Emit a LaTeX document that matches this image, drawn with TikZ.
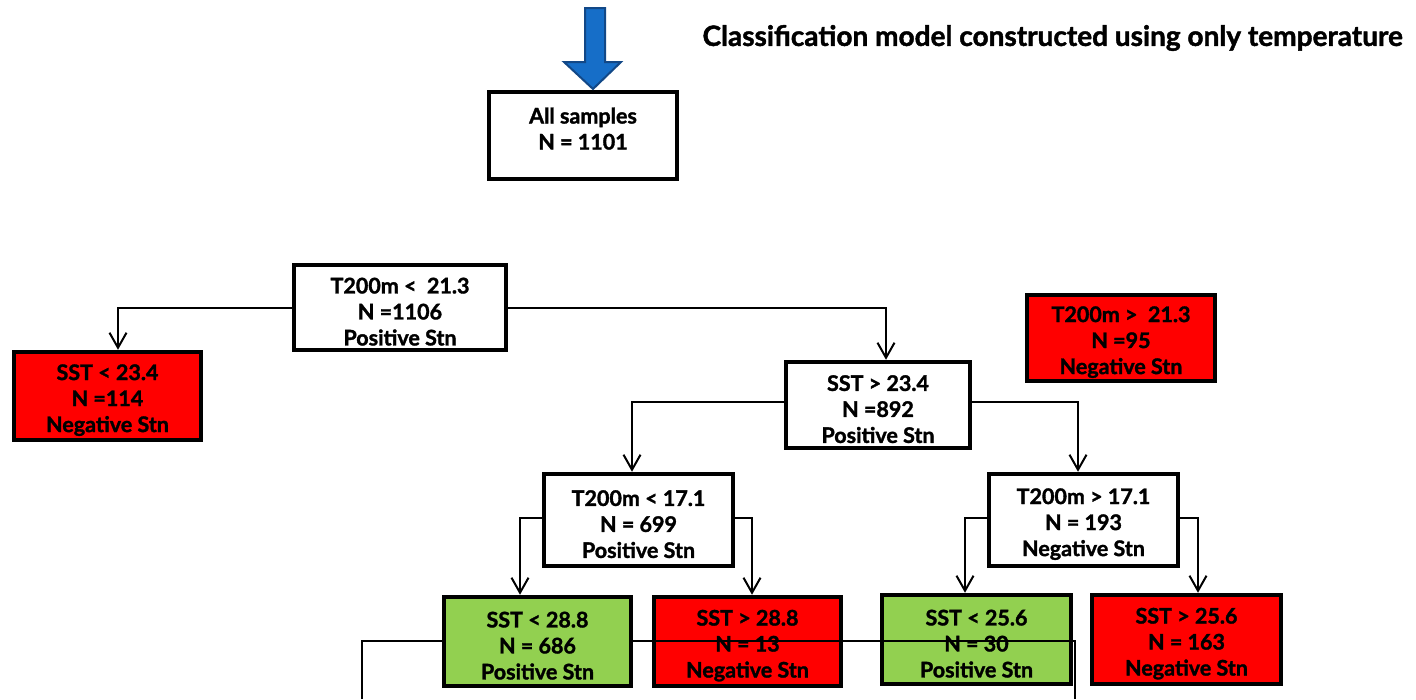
\documentclass[tikz,border=0pt]{standalone}
\usepackage{fontspec}
\setmainfont{Lato}[BoldFeatures={FakeBold=1.5}]
\usetikzlibrary{arrows.meta}
\definecolor{boxred}{RGB}{255,0,0}
\definecolor{boxgreen}{RGB}{146,208,80}
\definecolor{arrowblue}{RGB}{22,110,200}
\definecolor{arrowedge}{RGB}{18,72,135}
\newcommand{\dn}{\rule{0pt}{24pt}}
\begin{document}
\begin{tikzpicture}[x=1pt,y=-1pt,
  box/.style={draw=black, line width=4.5pt, fill=white, align=center,
    font=\fontsize{21.5}{26}\selectfont\bfseries, inner sep=0pt},
  redbox/.style={box, fill=boxred},
  greenbox/.style={box, fill=boxgreen},
  conn/.style={draw=black, line width=2pt, -{Straight Barb[length=15pt,width=17pt,line width=2pt]}},
  stray/.style={draw=black, line width=2pt}]
\useasboundingbox (0,0) rectangle (1416,699);

% title
\node[font=\fontsize{28}{30}\selectfont\bfseries, anchor=west] (title) at (699,38) {Classification model constructed using only temperature};

% top box and blue arrow
\node[box, minimum width=188pt, minimum height=87pt] (all) at (583,135.5) {\dn All samples\\N = 1101\\[-4pt]~};
\draw[fill=arrowblue, draw=arrowedge, line width=2pt, line join=miter]
  (585,8) -- (605,8) -- (605,62) -- (621,62) -- (593,89) -- (564,62) -- (585,62) -- cycle;

% level 1
\node[box, minimum width=212pt, minimum height=85pt] (t1) at (400,307.5) {\dn T200m <\ \ 21.3\\N =1106\\Positive Stn};
\node[redbox, minimum width=187pt, minimum height=88pt] (s1) at (107.5,396) {\dn SST < 23.4\\N =114\\Negative Stn};
\node[redbox, minimum width=188pt, minimum height=86pt] (n95) at (1121,338) {\dn T200m >\ \ 21.3\\N =95\\Negative Stn};
\node[box, minimum width=184pt, minimum height=86pt] (s2) at (878,405) {\dn SST > 23.4\\N =892\\Positive Stn};

% level 2
\node[box, minimum width=189pt, minimum height=92pt] (t3) at (638.5,520) {\dn T200m < 17.1\\N = 699\\Positive Stn};
\node[box, minimum width=189pt, minimum height=92pt] (t4) at (1083.5,520) {\dn T200m > 17.1\\N = 193\\Negative Stn};

% leaves (except first)
\node[redbox, minimum width=187pt, minimum height=89pt] (l2) at (747.5,641.5) {\dn SST > 28.8\\N = 13\\Negative Stn};
\node[greenbox, minimum width=189pt, minimum height=89pt] (l3) at (976.5,639.5) {\dn SST < 25.6\\N = 30\\Positive Stn};
\node[redbox, minimum width=189pt, minimum height=89pt] (l4) at (1186.5,639.5) {\dn SST > 25.6\\N = 163\\Negative Stn};

% stray line
\coordinate (p1) at (362,699);
\coordinate (p2) at (362,641);
\coordinate (p3) at (1075,641);
\coordinate (p4) at (1075,699);
\draw[stray] (p1) -- (p2) -- (p3) -- (p4);

\node[greenbox, minimum width=187pt, minimum height=89pt] (l1) at (537.5,641.5) {\dn SST < 28.8\\N = 686\\Positive Stn};

% connectors
\draw[conn] (t1.west) -| ([xshift=10.5pt]s1.north);
\draw[conn] (t1.east) -| ([xshift=8pt]s2.north);
\draw[conn] ([yshift=3pt]s2.west) -| ([xshift=-6.5pt]t3.north);
\draw[conn] ([yshift=3pt]s2.east) -| ([xshift=-5.5pt]t4.north);
\draw[conn] ([yshift=2pt]t3.west) -| ([xshift=-17.5pt]l1.north);
\draw[conn] ([yshift=2pt]t3.east) -| ([xshift=4.5pt]l2.north);
\draw[conn] ([yshift=2pt]t4.west) -| ([xshift=-11.5pt]l3.north);
\draw[conn] ([yshift=2pt]t4.east) -| ([xshift=11.5pt]l4.north);
\end{tikzpicture}
\end{document}
